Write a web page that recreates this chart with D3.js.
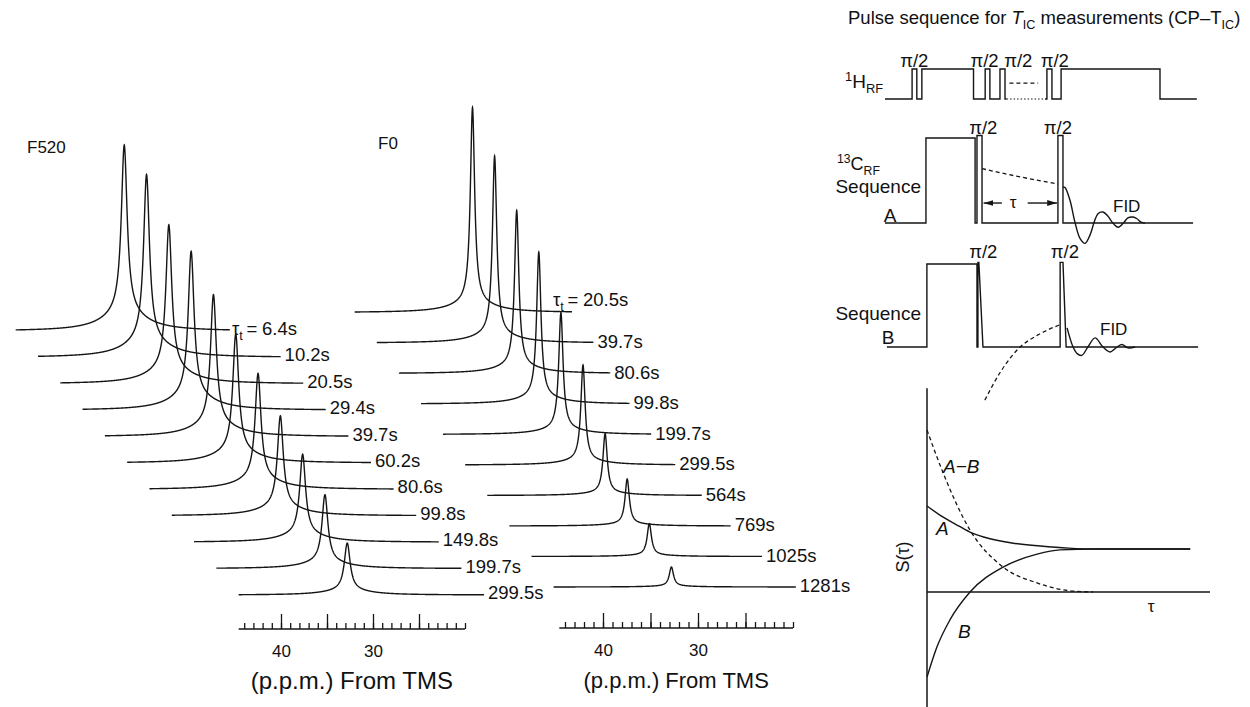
<!DOCTYPE html>
<html>
<head>
<meta charset="utf-8">
<script src="https://cdn.jsdelivr.net/npm/d3@7/dist/d3.min.js"></script>
<style>
  body { margin: 0; background: #fff; }
  text { font-family: "Liberation Sans", Arial, sans-serif; fill: #111; }
  .trace { fill: none; stroke: #151515; stroke-width: 1.4; }
  .seq { fill: none; stroke: #151515; stroke-width: 1.4; }
  .dash { fill: none; stroke: #151515; stroke-width: 1.3; stroke-dasharray: 4 3; }
  .dot { fill: none; stroke: #151515; stroke-width: 1.2; stroke-dasharray: 1.5 2; }
  .tlabel { font-size: 18.5px; }
  .it { font-style: italic; }
</style>
</head>
<body>
<svg id="fig" width="1250" height="707"></svg>
<script>
// ---- spectra data ----
var f520Times = ["6.4", "10.2", "20.5", "29.4", "39.7", "60.2", "80.6", "99.8", "149.8", "199.7", "299.5"];
var f520Heights = [186, 183, 159, 159, 142, 129, 116, 100, 88, 74, 52];   // peak height above baseline
var f0Times = ["20.5", "39.7", "80.6", "99.8", "199.7", "299.5", "564", "769", "1025", "1281"];
var f0Heights = [205, 187, 163, 152, 122, 100, 62, 47, 33, 20];
var peakPpm = 32.8;
var f520Line = { narrow: 0.38, broad: 2.7, broadFrac: 0.10 };   // half widths in ppm
var f0Line = { narrow: 0.27, broad: 2.6, broadFrac: 0.05 };
var minorTicks = d3.range(20, 45);
var majorTicks = [25, 30, 35, 40];
var tickLabels = [40, 30];

// ---- pulse sequence (time in arbitrary units 0..100) ----
// pulses: [on, off, level, fall]
var hPulsesA = [[8.6, 10.1, 1], [11.7, 28.1, 1], [31.8, 33.3, 1], [36.5, 38.1, 1]];
var hPulsesB = [[51.4, 53.0, 1], [55.9, 87.3, 1]];
var seqAPulses = [[13.0, 28.6, 1], [29.2, 30.8, 1.03], [54.9, 56.5, 1.03]];
var seqBPulses = [[13.3, 29.2, 1], [29.5, 29.8, 1.02, 1.3], [55.6, 56.5, 1.02, 1.0]];
var fidA = [[56.5, 0.42], [57.1, 0.42], [58.7, 0.27], [60.3, 0.01], [61.9, -0.18], [63.5, -0.24], [65.1, -0.14], [66.4, 0.01],
            [67.6, 0.11], [69.2, 0.13], [70.8, 0.08], [72.1, 0.01], [74.0, -0.05], [75.9, 0.01], [77.1, 0.06], [78.7, 0.07],
            [80.0, 0.05], [81.3, 0.01], [82.5, 0]];
var fidB = [[57.8, 0.23], [59.7, 0], [61.0, -0.08], [62.5, -0.1], [64.4, 0], [66.7, 0.11], [69.2, 0], [71.4, -0.06],
            [73.7, 0], [75.2, 0.03], [77.1, -0.01], [79.4, 0]];
var decayA = [[30.8, 0.64], [38, 0.58], [46, 0.52], [54.9, 0.46]];
var recoverB = [[31.7, -0.64], [36.5, -0.31], [42.9, 0], [48.3, 0.14], [55.6, 0.27]];

// ---- S(tau) curves ----
var curveA = [[0, 2.0], [0.5, 1.77], [1, 1.58], [1.5, 1.40], [2, 1.28], [3, 1.14], [4, 1.07], [5, 1.02], [6, 1.0], [9.3, 1.0]];
var curveB = [[0, -1.98], [0.35, -1.28], [0.81, -0.65], [1.52, 0], [2.69, 0.58], [3.89, 0.88], [4.7, 0.98], [6, 1.0], [9.3, 1.0]];
var curveAB = [[0, 3.77], [0.57, 2.77], [1.52, 1.44], [2.69, 0.58], [3.89, 0.21], [5.16, 0.02], [5.87, 0]];

var svg = d3.select("#fig");

function lorentz(d, g) { return g * g / (d * d + g * g); }

function subText(sel, parts) {
  // parts: [text, shift] ; shift >0 = subscript, <0 = superscript
  var cur = 0;
  parts.forEach(function(p) {
    var s = p[1] || 0;
    var t = sel.append("tspan").attr("dy", s - cur).text(p[0]);
    if (s != 0) t.style("font-size", "0.68em");
    if (p[2]) t.attr("class", "it");
    cur = s;
  });
}

// ---- stacked spectra ----
function drawStack(p) {
  var g = svg.append("g");
  var amp = d3.scaleLinear().domain([0, 200]).range([0, 200]);
  var n = p.times.length;
  var lw = p.lineShape;
  function shape(v) {
    var d = v - peakPpm;
    return (1 - lw.broadFrac) * lorentz(d, lw.narrow) + lw.broadFrac * lorentz(d, lw.broad);
  }

  p.times.forEach(function(t, i) {
    var k = n - 1 - i;
    var dx = -k * p.stepX, base = p.yBottom - k * p.stepY;
    var numX = p.labelX0 + p.labelStep * i + p.labelCurve * i * i;
    var raised = (i == 0 && p.firstRaised);
    var ty = raised ? base - 7 : base + p.labelDy;
    g.append("text").attr("class", "tlabel").attr("x", numX).attr("y", ty).text(t + "s");
    var endX = numX - 4;
    if (i == 0) {
      var pre = g.append("text").attr("class", "tlabel").attr("x", numX - 1).attr("y", ty).attr("text-anchor", "end");
      subText(pre, [["τ"], ["t", 5], ["\u2009=\u2009", 0]]);
      endX = raised ? numX - 11 : pre.node().getBBox().x - 2;
    }
    var ppmEnd = p.x.invert(endX - dx);
    var ppms = d3.range(p.ppmStart, ppmEnd, -0.03).concat([ppmEnd, peakPpm]).sort(d3.descending);
    var line = d3.line()
        .x(function(v) { return p.x(v) + dx; })
        .y(function(v) { return base - amp(p.heights[i] * shape(v)); });
    g.append("path").attr("class", "trace").attr("d", line(ppms));
  });

  // axis
  var ax = g.append("g").attr("transform", "translate(0," + p.axisY + ")").style("color", "#151515");
  ax.append("line").attr("x1", p.x(44.6)).attr("x2", p.x(20))
      .attr("stroke", "#151515").attr("stroke-width", 1.5);
  ax.append("g").call(d3.axisTop(p.x).tickValues(minorTicks).tickSize(6).tickSizeOuter(0).tickFormat(""))
      .call(function(s) { s.select(".domain").remove(); });
  ax.append("g").call(d3.axisTop(p.x).tickValues(majorTicks).tickSize(15).tickSizeOuter(0).tickFormat(""))
      .call(function(s) { s.select(".domain").remove(); });
  ax.selectAll(".tick line").attr("stroke-width", 1.3);
  ax.append("g").call(d3.axisBottom(p.x).tickValues(tickLabels).tickSize(0).tickPadding(16).tickFormat(d3.format("d")))
      .call(function(s) { s.select(".domain").remove(); })
      .selectAll("text").style("font-size", "17px").style("fill", "#111");
  g.append("text").attr("x", p.x(32.3)).attr("y", p.axisY + 60).attr("text-anchor", "middle")
      .style("font-size", p.unitSize + "px").text("(p.p.m.) From TMS");
  g.append("text").attr("x", p.nameX).attr("y", p.nameY).style("font-size", "17px").text(p.name);
}

drawStack({
  name: "F520", nameX: 27, nameY: 153,
  times: f520Times, heights: f520Heights, lineShape: f520Line,
  x: d3.scaleLinear().domain([40, 30]).range([281, 373]),
  ppmStart: 44.6, stepX: 22.3, stepY: 26.4, yBottom: 595,
  labelX0: 262, labelStep: 22.6, labelCurve: 0, labelDy: 4, firstRaised: false,
  axisY: 629, unitSize: 24
});

drawStack({
  name: "F0", nameX: 378, nameY: 149,
  times: f0Times, heights: f0Heights, lineShape: f0Line,
  x: d3.scaleLinear().domain([40, 30]).range([603, 698]),
  ppmStart: 45.2, stepX: 22.1, stepY: 30.5, yBottom: 587,
  labelX0: 583, labelStep: 13.2, labelCurve: 1.21, labelDy: 5, firstRaised: true,
  axisY: 628, unitSize: 22
});

// ---- pulse sequence ----
var seqX = d3.scaleLinear().domain([0, 100]).range([885, 1200]);
function rowY(base, h) { return d3.scaleLinear().domain([0, 1]).range([base, base - h]); }
var yH = rowY(99, 30), yA = rowY(223, 85), yB = rowY(347, 83);

function stepPts(extent, pulses) {
  var pts = [[extent[0], 0]];
  pulses.forEach(function(q) {
    pts.push([q[0], 0], [q[0], q[2]], [q[1], q[2]], [q[1] + (q[3] || 0), 0]);
  });
  pts.push([extent[1], 0]);
  return pts;
}
function rowLine(y, curve) {
  return d3.line().x(function(d) { return seqX(d[0]); }).y(function(d) { return y(d[1]); }).curve(curve || d3.curveLinear);
}

var seqG = svg.append("g");
seqG.append("path").attr("class", "seq").attr("d", rowLine(yH)(stepPts([0, 38.6], hPulsesA)));
seqG.append("path").attr("class", "dot").attr("d", rowLine(yH)([[38.6, 0], [50.8, 0]]));
seqG.append("path").attr("class", "dash").attr("d", rowLine(yH)([[39.5, 0.53], [48.6, 0.53]]));
seqG.append("path").attr("class", "seq").attr("d", rowLine(yH)(stepPts([50.8, 99], hPulsesB)));

seqG.append("path").attr("class", "seq").attr("d", rowLine(yA)(stepPts([0, 97.8], seqAPulses)));
seqG.append("path").attr("class", "seq").attr("d", rowLine(yA, d3.curveCatmullRom)(fidA));
seqG.append("path").attr("class", "dash").attr("d", rowLine(yA, d3.curveMonotoneX)(decayA));

seqG.append("path").attr("class", "seq").attr("d", rowLine(yB)(stepPts([0.6, 99.4], seqBPulses)));
seqG.append("path").attr("class", "seq").attr("d", rowLine(yB, d3.curveCatmullRom)(fidB));
seqG.append("path").attr("class", "dash").attr("d", rowLine(yB, d3.curveMonotoneX)(recoverB));

// tau arrow in sequence A
var arrowLevel = 0.235;
svg.append("defs").append("marker").attr("id", "ah").attr("viewBox", "0 0 10 10")
    .attr("refX", 10).attr("refY", 5).attr("markerWidth", 7).attr("markerHeight", 7).attr("orient", "auto")
  .append("path").attr("d", "M0,2 L10,5 L0,8 Z").attr("fill", "#151515");
seqG.append("path").attr("class", "seq").attr("stroke-width", 1).attr("marker-end", "url(#ah)")
    .attr("d", rowLine(yA)([[37.1, arrowLevel], [31.3, arrowLevel]]));
seqG.append("path").attr("class", "seq").attr("stroke-width", 1).attr("marker-end", "url(#ah)")
    .attr("d", rowLine(yA)([[45.3, arrowLevel], [54.6, arrowLevel]]));
seqG.append("text").attr("x", seqX(40.7)).attr("y", yA(arrowLevel) + 5).attr("text-anchor", "middle")
    .style("font-size", "17px").text("τ");

// labels
var title = svg.append("text").attr("x", 848).attr("y", 24).style("font-size", "18.5px");
subText(title, [["Pulse sequence for "], ["T", 0, true], ["IC", 5], [" measurements (CP–T", 0], ["IC", 5], [")", 0]]);

var hLab = svg.append("text").attr("x", 845).attr("y", 88).style("font-size", "19px");
subText(hLab, [["1", -7], ["H", 0], ["RF", 5]]);
var cLab = svg.append("text").attr("x", 837).attr("y", 170).style("font-size", "18px");
subText(cLab, [["13", -7], ["C", 0], ["RF", 5]]);

function plainText(x, y, s, size, anchor, cls) {
  return svg.append("text").attr("x", x).attr("y", y).attr("text-anchor", anchor || "start")
      .attr("class", cls || null).style("font-size", size + "px").text(s);
}
plainText(921, 193, "Sequence", 19, "end");
plainText(890, 222, "A", 19, "middle");
plainText(921, 320, "Sequence", 19, "end");
plainText(888, 344, "B", 19, "middle");
plainText(1113, 212, "FID", 17);
plainText(1100, 335, "FID", 17);

[[9.3, yH, 67], [31.6, yH, 67], [42.3, yH, 67], [53.9, yH, 67],
 [31.2, yA, 134], [54.9, yA, 134], [31.2, yB, 258], [57.1, yB, 258]].forEach(function(d) {
  plainText(seqX(d[0]), d[2], "π/2", 18.5, "middle");
});

// ---- S(tau) plot ----
var tx = d3.scaleLinear().domain([0, 10]).range([927, 1210]);
var sy = d3.scaleLinear().domain([0, 1]).range([592, 549]);
var sLine = d3.line().x(function(d) { return tx(d[0]); }).y(function(d) { return sy(d[1]); }).curve(d3.curveMonotoneX);
var sg = svg.append("g");
sg.append("line").attr("x1", tx(0)).attr("x2", tx(0)).attr("y1", sy(4.74)).attr("y2", sy(-2.7))
    .attr("stroke", "#151515").attr("stroke-width", 1.5);
sg.append("line").attr("x1", tx(0)).attr("x2", tx(10)).attr("y1", sy(0)).attr("y2", sy(0))
    .attr("stroke", "#151515").attr("stroke-width", 1.4);
sg.append("path").attr("class", "seq").attr("d", sLine(curveA));
sg.append("path").attr("class", "seq").attr("d", sLine(curveB));
sg.append("path").attr("class", "dash").attr("d", sLine(curveAB));

plainText(943, 473, "A−B", 19, "start", "it");
plainText(936, 535, "A", 19, "start", "it");
plainText(958, 638, "B", 19, "start", "it");
plainText(1151, 612, "τ", 17, "middle");
svg.append("text").attr("transform", "translate(909,557) rotate(-90)").attr("text-anchor", "middle")
    .style("font-size", "18px").text("S(τ)");
</script>
</body>
</html>
